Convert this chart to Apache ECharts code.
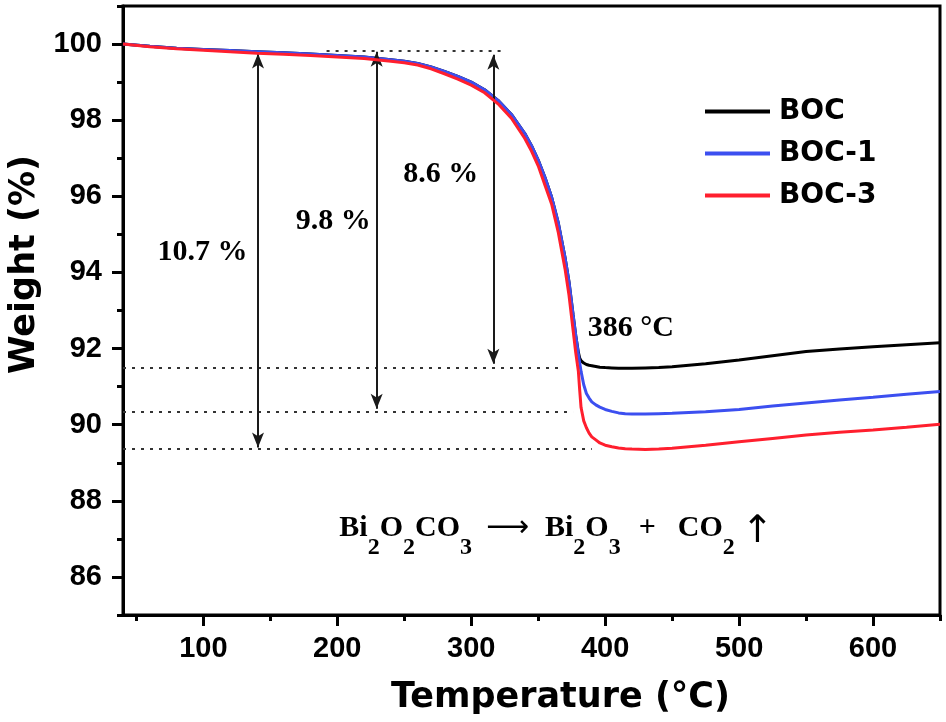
<!DOCTYPE html>
<html>
<head>
<meta charset="utf-8">
<script src="https://cdn.jsdelivr.net/npm/echarts@6/dist/echarts.min.js"></script>
<style>html,body{margin:0;padding:0;background:#fff;}#c{width:946px;height:722px;}</style>
</head>
<body>
<div id="c"></div>
<script>
// ---- data ----
const temps = [40, 60, 80, 100, 120, 140, 160, 180, 200, 220, 240, 250, 260, 270, 280, 290, 300, 310, 320, 330, 340, 345, 350, 355, 360, 365, 370, 373, 376, 378, 380, 381, 382, 384, 386, 388, 390, 393, 396, 400, 405, 410, 415, 420, 430, 440, 450, 475, 500, 525, 550, 575, 600, 625, 650];
const boc  = [100.00, 99.94, 99.89, 99.86, 99.83, 99.80, 99.77, 99.74, 99.70, 99.66, 99.59, 99.55, 99.49, 99.40, 99.28, 99.15, 99.00, 98.80, 98.52, 98.15, 97.65, 97.33, 96.95, 96.50, 95.98, 95.30, 94.40, 93.75, 92.90, 92.35, 91.90, 91.75, 91.68, 91.62, 91.58, 91.56, 91.55, 91.53, 91.51, 91.50, 91.49, 91.48, 91.48, 91.48, 91.49, 91.50, 91.52, 91.60, 91.70, 91.81, 91.92, 91.99, 92.05, 92.10, 92.15];
const boc1 = [100.00, 99.94, 99.89, 99.86, 99.83, 99.80, 99.77, 99.74, 99.70, 99.66, 99.59, 99.55, 99.49, 99.40, 99.28, 99.15, 99.00, 98.80, 98.52, 98.15, 97.65, 97.33, 96.95, 96.50, 95.98, 95.30, 94.40, 93.75, 92.90, 92.35, 91.85, 91.62, 91.40, 91.05, 90.82, 90.70, 90.60, 90.52, 90.46, 90.40, 90.35, 90.31, 90.29, 90.28, 90.28, 90.29, 90.30, 90.34, 90.40, 90.49, 90.57, 90.65, 90.72, 90.80, 90.87];
const boc3 = [100.00, 99.93, 99.88, 99.84, 99.80, 99.76, 99.73, 99.70, 99.66, 99.62, 99.55, 99.51, 99.45, 99.35, 99.22, 99.08, 98.92, 98.72, 98.43, 98.05, 97.52, 97.19, 96.80, 96.30, 95.80, 95.05, 94.10, 93.40, 92.50, 91.90, 91.40, 90.90, 90.45, 90.10, 89.92, 89.78, 89.68, 89.60, 89.52, 89.46, 89.42, 89.39, 89.37, 89.36, 89.35, 89.36, 89.38, 89.46, 89.55, 89.64, 89.73, 89.80, 89.86, 89.93, 90.01];
const seriesNames = ['BOC', 'BOC-1', 'BOC-3'];
const xTickValues = [100, 200, 300, 400, 500, 600];
const xMinorValues = [50, 150, 250, 350, 450, 550, 650];
const yTickValues = [86, 88, 90, 92, 94, 96, 98, 100];
const yMinorValues = [85, 87, 89, 91, 93, 95, 97, 99, 101];
// dotted guide lines: [y, xStart, xEnd]
const guideLines = [[99.83, 192, 324], [91.5, 40, 365], [90.35, 40, 376], [89.36, 40, 390]];
// double arrows: [x, yTop, yBottom]
const arrows = [[140.8, 99.75, 89.40], [229.4, 99.80, 90.42], [316.5, 99.72, 91.60]];
// text labels: [x, y, text]
const textLabels = [[99.4, 94.52, '10.7 %'], [197, 95.34, '9.8 %'], [277.3, 96.58, '8.6 %'], [419.2, 92.53, '386 °C']];
const equationAnchor = [201.5, 87.06];

// ---- chart ----
const chart = echarts.init(document.getElementById('c'), null, {renderer: 'canvas'});
const colors = ['#000000', '#3c4ff0', '#ff1f2e'];
const lineSeries = [boc, boc1, boc3].map((arr, i) => ({
  name: seriesNames[i],
  type: 'line',
  data: temps.map((t, j) => [t, arr[j]]),
  symbol: 'none',
  smooth: false,
  lineStyle: {color: colors[i], width: 3},
  itemStyle: {color: colors[i]},
  z: 3 + i
}));

const guideData = guideLines.map(g => [{coord: [g[1], g[0]]}, {coord: [g[2], g[0]]}]);
const arrowData = arrows.map(a => [{coord: [a[0], a[1]]}, {coord: [a[0], a[2]]}]);

const annotSeries = {
  name: 'annot',
  type: 'scatter',
  data: textLabels.map(l => ({value: [l[0], l[1]], name: l[2]})),
  symbolSize: 0,
  itemStyle: {color: '#000', opacity: 1},
  silent: true,
  z: 10,
  label: {
    show: true,
    position: [0, 0],
    align: 'center',
    verticalAlign: 'middle',
    formatter: p => p.name,
    fontFamily: 'Liberation Serif, Times New Roman, serif',
    fontWeight: 'bold',
    fontSize: 30,
    color: '#000',
    opacity: 1,
    textBorderWidth: 0,
    textBorderColor: 'transparent'
  },
  markLine: {
    silent: true,
    animation: false,
    symbol: ['none', 'none'],
    label: {show: false},
    lineStyle: {color: '#333', width: 2, type: [3, 6], opacity: 1},
    data: guideData
  }
};

const arrowSeries = {
  name: 'arrows',
  type: 'scatter',
  data: [],
  silent: true,
  z: 9,
  markLine: {
    silent: true,
    animation: false,
    symbol: ['arrow', 'arrow'],
    symbolSize: [9, 15],
    label: {show: false},
    lineStyle: {color: '#1a1a1a', width: 2, type: 'solid', opacity: 1},
    data: arrowData
  }
};

const eqSeries = {
  name: 'equation',
  type: 'scatter',
  data: [{value: equationAnchor}],
  symbolSize: 0,
  itemStyle: {color: '#000', opacity: 1},
  silent: true,
  label: {
    show: true,
    position: [0, 0],
    align: 'left',
    verticalAlign: 'middle',
    opacity: 1,
    textBorderWidth: 0,
    textBorderColor: 'transparent',
    formatter: '{m|Bi}{s|2}{m|O}{s|2}{m|CO}{s|3}{a|⟶}{m|Bi}{s|2}{m|O}{s|3}{p|+}{m|CO}{s|2}{u|↑}',
    rich: {
      m: {fontFamily: 'Liberation Serif, serif', fontWeight: 'bold', fontSize: 30, color: '#000', height: 32, lineHeight: 32, verticalAlign: 'top'},
      p: {fontFamily: 'Liberation Serif, serif', fontWeight: 'bold', fontSize: 30, color: '#000', height: 32, lineHeight: 32, verticalAlign: 'top', padding: [0, 22, 0, 18]},
      s: {fontFamily: 'Liberation Serif, serif', fontWeight: 'bold', fontSize: 24, color: '#000', height: 26, lineHeight: 48, verticalAlign: 'bottom'},
      a: {fontFamily: 'DejaVu Sans, sans-serif', fontSize: 30, color: '#000', height: 32, lineHeight: 32, verticalAlign: 'top', padding: [0, 16, 0, 14]},
      u: {fontFamily: 'DejaVu Sans, sans-serif', fontSize: 38, color: '#000', height: 40, lineHeight: 40, verticalAlign: 'top', padding: [0, 0, 0, 7]}
    }
  }
};

const option = {
  animation: false,
  backgroundColor: '#fff',
  grid: {left: 123, right: 6, top: 6, bottom: 107, show: true, borderColor: '#000', borderWidth: 3, outerBoundsMode: 'none'},
  legend: {
    data: seriesNames,
    orient: 'vertical',
    left: 700,
    top: 91,
    itemWidth: 65,
    itemHeight: 4,
    itemGap: 11,
    icon: 'rect',
    textStyle: {fontFamily: 'DejaVu Sans, sans-serif', fontWeight: 'bold', fontSize: 28, color: '#000', lineHeight: 31, padding: [0, 0, 0, 4]}
  },
  xAxis: [{
    type: 'value', min: 40, max: 650, interval: 10,
    name: 'Temperature (°C)', nameLocation: 'middle', nameGap: 65,
    nameTextStyle: {fontFamily: 'DejaVu Sans, sans-serif', fontWeight: 'bold', fontSize: 35, color: '#000', padding: [0, 0, 0, 58]},
    axisLine: {show: true, onZero: false, lineStyle: {color: '#000', width: 3}},
    axisTick: {show: true, customValues: xTickValues, length: 11, lineStyle: {color: '#000', width: 3}},
    axisLabel: {customValues: xTickValues, margin: 19, fontFamily: 'Liberation Sans, Arial, sans-serif', fontWeight: 'bold', fontSize: 29, color: '#000'},
    splitLine: {show: false}
  }, {
    type: 'value', min: 40, max: 650, interval: 10, position: 'bottom',
    axisLine: {show: false, onZero: false},
    axisTick: {show: true, customValues: xMinorValues, length: 6, lineStyle: {color: '#000', width: 3}},
    axisLabel: {show: false},
    splitLine: {show: false}
  }],
  yAxis: [{
    type: 'value', min: 85, max: 101, interval: 1,
    name: 'Weight (%)', nameLocation: 'middle', nameGap: 78,
    nameTextStyle: {fontFamily: 'DejaVu Sans, sans-serif', fontWeight: 'bold', fontSize: 35, color: '#000', padding: [0, 0, 0, 92]},
    axisLine: {show: true, onZero: false, lineStyle: {color: '#000', width: 3}},
    axisTick: {show: true, customValues: yTickValues, length: 11, lineStyle: {color: '#000', width: 3}},
    axisLabel: {customValues: yTickValues, margin: 21, fontFamily: 'Liberation Sans, Arial, sans-serif', fontWeight: 'bold', fontSize: 29, color: '#000'},
    splitLine: {show: false}
  }, {
    type: 'value', min: 85, max: 101, interval: 1, position: 'left',
    axisLine: {show: false, onZero: false},
    axisTick: {show: true, customValues: yMinorValues, length: 6, lineStyle: {color: '#000', width: 3}},
    axisLabel: {show: false},
    splitLine: {show: false}
  }],
  series: [...lineSeries, annotSeries, arrowSeries, eqSeries]
};
chart.setOption(option);
</script>
</body>
</html>
